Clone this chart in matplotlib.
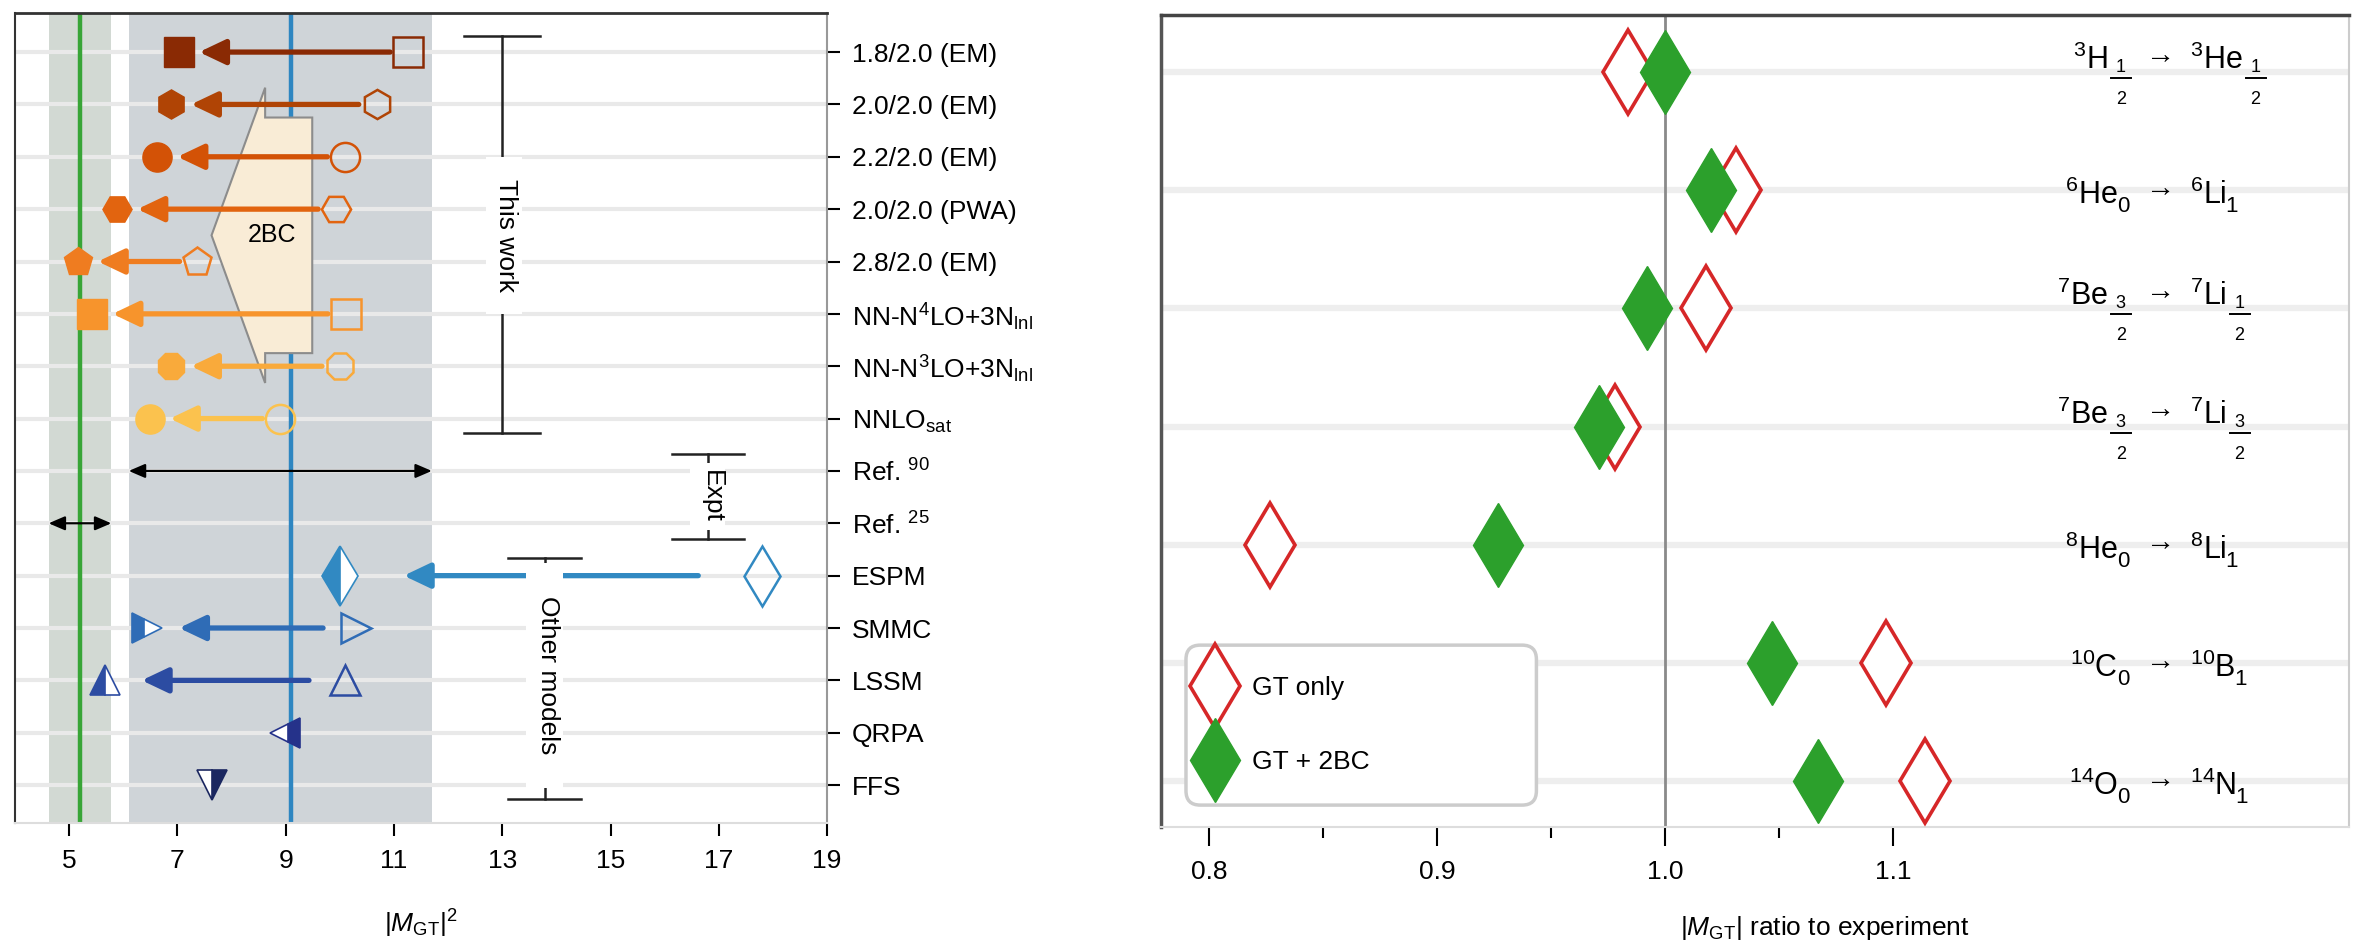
import numpy as np
import matplotlib
matplotlib.use("Agg")
import matplotlib.pyplot as plt
from matplotlib.patches import Polygon, Rectangle, FancyBboxPatch
from matplotlib.lines import Line2D
from matplotlib.transforms import IdentityTransform

plt.rcParams["font.family"] = ["Liberation Sans", "DejaVu Sans"]
plt.rcParams["font.size"] = 19
plt.rcParams["mathtext.fontset"] = "custom"
plt.rcParams["mathtext.rm"] = "Liberation Sans"
plt.rcParams["mathtext.it"] = "Liberation Sans:italic"
plt.rcParams["mathtext.bf"] = "Liberation Sans:bold"

# ---- left panel: |M_GT|^2 for 100Sn ----
row_labels = ["1.8/2.0 (EM)", "2.0/2.0 (EM)", "2.2/2.0 (EM)", "2.0/2.0 (PWA)",
              "2.8/2.0 (EM)", r"NN-N$^4$LO+3N$_{\rm lnl}$", r"NN-N$^3$LO+3N$_{\rm lnl}$",
              r"NNLO$_{\rm sat}$", r"Ref. $^{90}$", r"Ref. $^{25}$",
              "ESPM", "SMMC", "LSSM", "QRPA", "FFS"]

# this work: GT only (open) -> GT + 2BC (filled)
calc_gt = [11.26, 10.68, 10.10, 9.93, 7.37, 10.11, 10.00, 8.90]
calc_2bc = [7.03, 6.88, 6.63, 5.89, 5.16, 5.43, 6.88, 6.49]
calc_markers = ["s", "h", "o", "H", "p", "s", "8", "o"]
calc_colors = ["#8a2a04", "#b04405", "#d35206", "#e2640f", "#ef7c20",
               "#f7942c", "#f9aa3b", "#fbc24e"]

# other models: bare (open) -> quenched (half filled)
model_rows = [10, 11, 12, 13, 14]
model_bare = [17.8, 10.29, 10.10, np.nan, np.nan]
model_quenched = [10.0, 6.43, 5.67, 8.98, 7.64]
model_markers = ["d", ">", "^", "<", "v"]
model_fill = ["left", "left", "left", "right", "right"]
model_colors = ["#3189c2", "#2f6cb6", "#2c4ca2", "#25328a", "#1b2760"]
model_gap = [1.18, 0.6, 0.67, 0, 0]

# experiments
expt_rows = [8, 9]
expt_lo = [6.1, 4.62]
expt_hi = [11.7, 5.78]
expt_central = [9.1, 5.2]
expt_band_colors = ["#cfd4d8", "#d2d9d3"]
expt_line_colors = ["#2e86c1", "#38a537"]

# ---- right panel: ratio to experiment ----
parent_mass = [3, 6, 7, 7, 8, 10, 14]
parent_elem = ["H", "He", "Be", "Be", "He", "C", "O"]
parent_spin = ["1/2", "0", "3/2", "3/2", "0", "0", "0"]
daughter_mass = [3, 6, 7, 7, 8, 10, 14]
daughter_elem = ["He", "Li", "Li", "Li", "Li", "B", "N"]
daughter_spin = ["1/2", "1", "1/2", "3/2", "1", "1", "1"]
ratio_gt = [0.984, 1.031, 1.018, 0.978, 0.827, 1.097, 1.114]
ratio_2bc = [1.000, 1.020, 0.992, 0.971, 0.927, 1.047, 1.067]

fig = plt.figure(figsize=(23.56, 9.47), dpi=100)
ax1 = fig.add_axes([0.00637, 0.1309, 0.3447, 0.8553])
ax2 = fig.add_axes([0.4928, 0.1267, 0.5042, 0.8574])

# ---------------- left ----------------
ax = ax1
ax.set_xlim(4.0, 19.0)
ax.set_ylim(14.725, -0.745)
for lo, hi, c in zip(expt_lo, expt_hi, expt_band_colors):
    ax.axvspan(lo, hi, color=c, lw=0, zorder=0)
for r in range(len(row_labels)):
    ax.axhline(r, color="#e9e9e9", lw=3, zorder=1)
for x, c in zip(expt_central, expt_line_colors):
    ax.axvline(x, color=c, lw=3.2, zorder=2)

# 2BC shift arrow
tip, back, end = 7.63, 8.62, 9.49
yc, hh, sh = 3.5, 2.82, 2.25
arrow_shape = Polygon([(tip, yc), (back, yc - hh), (back, yc - sh), (end, yc - sh),
                       (end, yc + sh), (back, yc + sh), (back, yc + hh)],
                      closed=True, facecolor="#f9ecd6", edgecolor="#8c8c8c", lw=1.5, zorder=3)
ax.add_patch(arrow_shape)
ax.text(8.74, yc, "2BC", ha="center", va="center", fontsize=18, zorder=6)

for i, (g, b, m, c) in enumerate(zip(calc_gt, calc_2bc, calc_markers, calc_colors)):
    ax.annotate("", xy=(b + 0.37, i), xytext=(g - 0.33, i),
                arrowprops=dict(arrowstyle="-|>,head_length=0.8,head_width=0.38",
                                color=c, lw=3.8, shrinkA=0, shrinkB=0,
                                mutation_scale=20), zorder=4)
    ax.plot(b, i, marker=m, ms=21, color=c, mec=c, ls="none", zorder=5)
    ax.plot(g, i, marker=m, ms=21, mfc="none", mec=c, mew=1.8, ls="none", zorder=5)

for r, bare, q, m, fs, c, gap in zip(model_rows, model_bare, model_quenched,
                                      model_markers, model_fill, model_colors, model_gap):
    ms = 31 if m == "d" else 21
    if not np.isnan(bare):
        ax.annotate("", xy=(q + gap, r), xytext=(bare - gap, r),
                    arrowprops=dict(arrowstyle="-|>,head_length=0.8,head_width=0.38",
                                    color=c, lw=3.8, shrinkA=0, shrinkB=0,
                                    mutation_scale=20), zorder=4)
        ax.plot(bare, r, marker=m, ms=ms, mfc="none", mec=c, mew=1.8, ls="none", zorder=5)
    ax.plot(q, r, marker=m, ms=ms, color=c, mec=c, mew=1.2, fillstyle=fs,
            markerfacecoloralt="white", ls="none", zorder=5)

for r, lo, hi in zip(expt_rows, expt_lo, expt_hi):
    ax.annotate("", xy=(lo, r), xytext=(hi, r),
                arrowprops=dict(arrowstyle="<|-|>,head_length=0.7,head_width=0.3",
                                color="black", lw=1.6, shrinkA=0, shrinkB=0,
                                mutation_scale=14), zorder=4)


def bracket(x, y0, y1, half, label, box):
    ax.plot([x, x], [y0, y1], color="#222222", lw=1.8, zorder=6)
    for y in (y0, y1):
        ax.plot([x - half, x + half], [y, y], color="#222222", lw=1.8, zorder=6)
    bx0, bx1, by0, by1 = box
    ax.add_patch(Rectangle((bx0, by0), bx1 - bx0, by1 - by0, facecolor="white",
                           edgecolor="none", zorder=7))
    ax.text(x + 0.07, (by0 + by1) / 2, label, rotation=270, ha="center", va="center",
            fontsize=19, zorder=8)


bracket(13.0, -0.3, 7.28, 0.7, "This work", (12.7, 13.36, 2.0, 5.0))
bracket(16.8, 7.68, 9.3, 0.67, "Expt", (16.47, 17.12, 7.85, 9.13))
bracket(13.78, 9.66, 14.27, 0.67, "Other models", (13.43, 14.12, 9.75, 14.05))

ax.set_xticks(np.arange(5, 20, 2))
ax.set_yticks(range(len(row_labels)))
ax.set_yticklabels(row_labels)
ax.yaxis.tick_right()
ax.tick_params(axis="x", direction="out", length=9, width=1.5, pad=10, labelsize=19)
ax.tick_params(axis="y", direction="out", length=9, width=1.5, pad=9, labelsize=19)
ax.spines["left"].set_color("#333333")
ax.spines["left"].set_linewidth(1.5)
ax.spines["top"].set_color("#333333")
ax.spines["top"].set_linewidth(2)
ax.spines["right"].set_color("#999999")
ax.spines["right"].set_linewidth(1.5)
ax.spines["bottom"].set_color("#dddddd")
ax.spines["bottom"].set_linewidth(1.5)
ax.text(0.5, -0.124, r"$|M_{\rm GT}|^2$", transform=ax.transAxes, ha="center",
        va="center", fontsize=19)

# ---------------- right ----------------
ax = ax2
ax.set_xlim(0.779, 1.30)
ax.set_ylim(6.39, -0.483)
for r in range(len(ratio_gt)):
    ax.axhline(r, color="#eeeeee", lw=4.5, zorder=1)
ax.axvline(1.0, color="#8a8a8a", lw=2, zorder=2)
rows = np.arange(len(ratio_gt))
ax.plot(ratio_gt, rows, marker="d", ms=43, mfc="white", mec="#d62728", mew=2.6,
        ls="none", zorder=4, label="GT only")
ax.plot(ratio_2bc, rows, marker="d", ms=43, color="#2ca02c", ls="none", zorder=5,
        label="GT + 2BC")

# transition labels, laid out in pixels: nucleus, spin (integer or stacked fraction), arrow
ident = IdentityTransform()
renderer = fig.canvas.get_renderer()


def spin_text(x0, base, s):
    if "/" in s:
        num, den = s.split("/")
        xc = x0 + 11
        ax.text(xc, base - 3, num, transform=ident, ha="center", va="baseline", fontsize=13)
        ax.text(xc, base - 35, den, transform=ident, ha="center", va="baseline", fontsize=13)
        ax.add_line(Line2D([x0 + 1, x0 + 21], [base - 9, base - 9], transform=ident,
                           color="black", lw=1.4))
    else:
        ax.text(x0 - 3, base - 8, s, transform=ident, ha="left", va="baseline", fontsize=16)


x_arrow = ax.transAxes.transform((0.8418, 0))[0]
x_parent = ax.transAxes.transform((0.797, 0))[0]
x_daughter = ax.transAxes.transform((0.8662, 0))[0]
for r in range(len(ratio_gt)):
    frac_row = "/" in parent_spin[r]
    y_row = ax.transData.transform((1.0, r))[1]
    base = y_row + 3 if frac_row else y_row - 14
    right_edge = x_parent if frac_row else x_parent + 10
    ax.text(right_edge, base, r"$^{%d}$%s" % (parent_mass[r], parent_elem[r]),
            transform=ident, ha="right", va="baseline", fontsize=22)
    spin_text(right_edge + 2, base, parent_spin[r])
    ax.text(x_arrow, base + (6 if frac_row else 8), "\u2192", transform=ident,
            ha="center", va="baseline", fontsize=21)
    t = ax.text(x_daughter, base, r"$^{%d}$%s" % (daughter_mass[r], daughter_elem[r]),
                transform=ident, ha="left", va="baseline", fontsize=22)
    bb = t.get_window_extent(renderer=renderer)
    spin_text(bb.x1 + 2, base, daughter_spin[r])

frame = FancyBboxPatch((0.021, 0.027), 0.295, 0.197, transform=ax.transAxes,
                       boxstyle="round,pad=0,rounding_size=0.012", mutation_aspect=1.463,
                       facecolor="white", edgecolor="#cccccc", lw=2.5, zorder=9)
ax.add_patch(frame)
leg = ax.legend(loc="center left", bbox_to_anchor=(0.034, 0.1255), frameon=False,
                fontsize=19, handlelength=1.0, handletextpad=0.9, labelspacing=1.9,
                borderaxespad=0, borderpad=0)
leg.set_zorder(10)

ax.set_xticks([0.8, 0.9, 1.0, 1.1])
ax.set_xticklabels(["0.8", "0.9", "1.0", "1.1"])
ax.set_xticks([0.85, 0.95, 1.05], minor=True)
ax.set_yticks([])
ax.tick_params(axis="x", which="major", direction="out", length=14, width=1.5,
               pad=10, labelsize=19)
ax.tick_params(axis="x", which="minor", direction="out", length=8, width=1.5)
ax.spines["left"].set_color("#555555")
ax.spines["left"].set_linewidth(2.5)
ax.spines["top"].set_color("#444444")
ax.spines["top"].set_linewidth(2.5)
ax.spines["right"].set_color("#cccccc")
ax.spines["right"].set_linewidth(1.5)
ax.spines["bottom"].set_color("#dddddd")
ax.spines["bottom"].set_linewidth(1.5)
ax.text(0.559, -0.124, r"$|M_{\rm GT}|$ ratio to experiment", transform=ax.transAxes,
        ha="center", va="center", fontsize=19)

fig.savefig("out.png", dpi=100)
